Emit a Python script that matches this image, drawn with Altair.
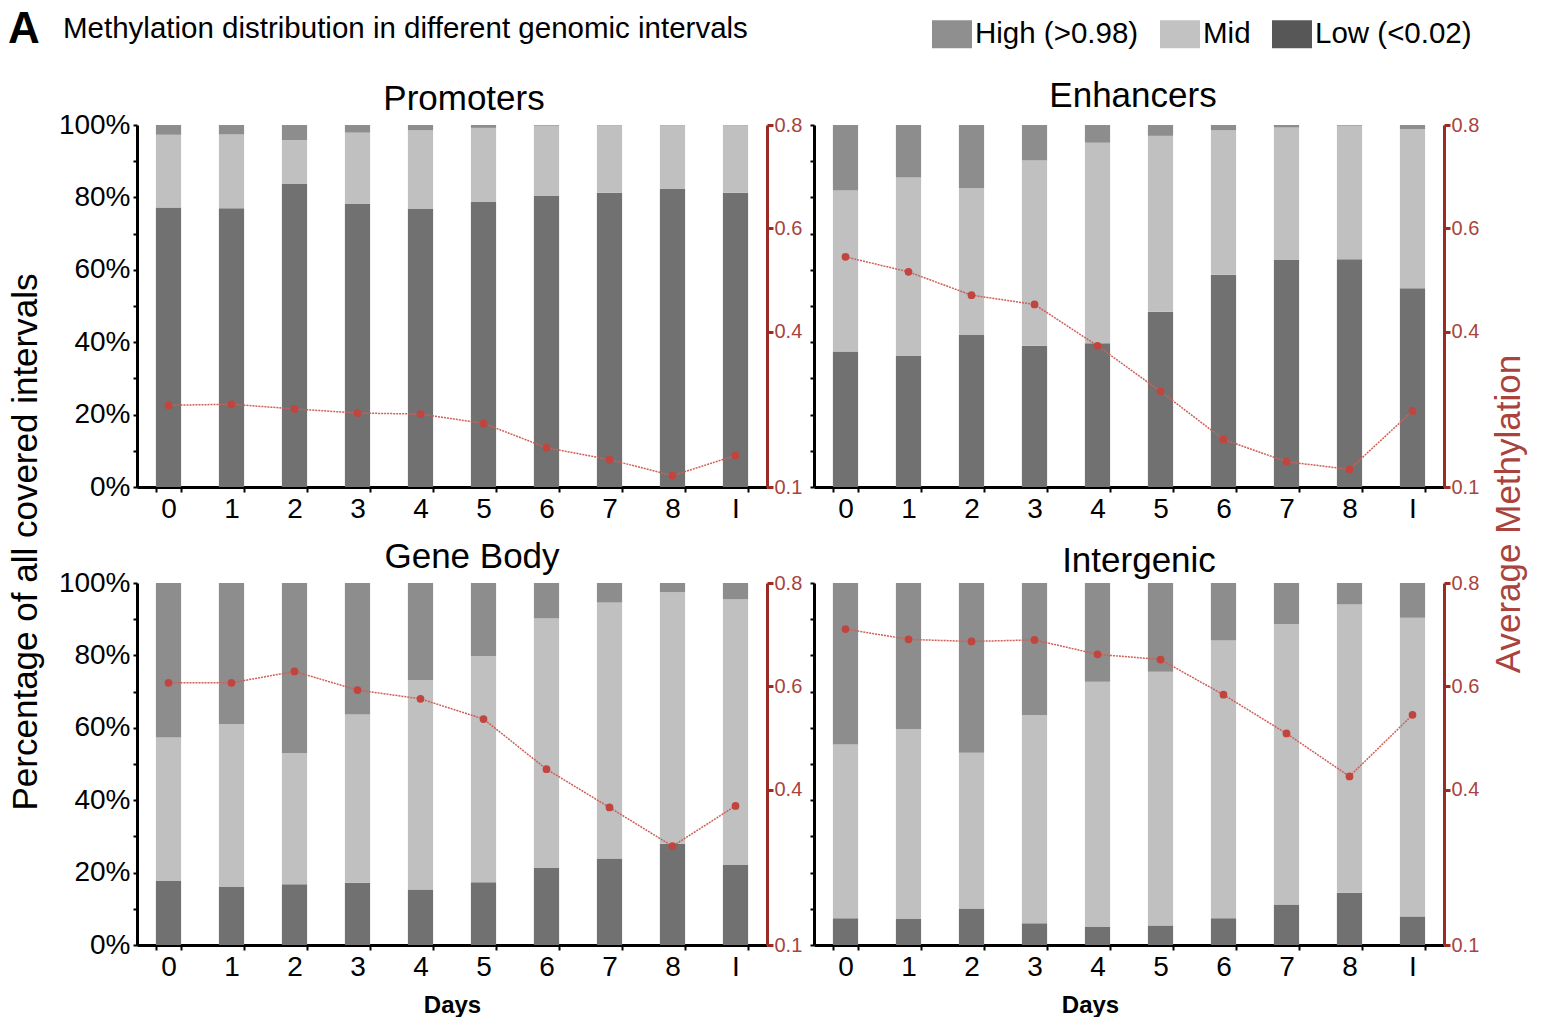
import altair as alt
import pandas as pd

FONT = "Liberation Sans"

DAYS = ["0", "1", "2", "3", "4", "5", "6", "7", "8", "I"]
LEVELS = ["High (>0.98)", "Mid", "Low (<0.02)"]
LEVEL_COLORS = ["#8d8d8d", "#c0c0c0", "#717171"]
LEGEND_COLORS = ["#8f8f8f", "#c2c2c2", "#575757"]

PANEL_NAMES = ["Promoters", "Enhancers", "Gene Body", "Intergenic"]

# percentages of intervals (Low / Mid / High) per day
PROM_LOW = [77.2, 77.0, 83.7, 78.2, 76.8, 78.7, 80.4, 81.3, 82.3, 81.3]
PROM_MID = [20.1, 20.4, 12.1, 19.7, 21.8, 20.5, 19.4, 18.6, 17.6, 18.6]
PROM_HIGH = [2.7, 2.6, 4.2, 2.1, 1.4, 0.8, 0.2, 0.1, 0.1, 0.1]
PROM_AVG = [0.258, 0.260, 0.251, 0.243, 0.241, 0.223, 0.176, 0.153, 0.122, 0.161]

ENH_LOW = [37.4, 36.2, 42.0, 39.0, 39.7, 48.4, 58.6, 62.7, 62.9, 54.9]
ENH_MID = [44.5, 49.3, 40.6, 51.2, 55.4, 48.6, 40.0, 36.6, 36.9, 44.0]
ENH_HIGH = [18.1, 14.5, 17.4, 9.8, 4.9, 3.0, 1.4, 0.7, 0.2, 1.1]
ENH_AVG = [0.545, 0.516, 0.471, 0.453, 0.373, 0.285, 0.192, 0.149, 0.134, 0.247]

GB_LOW = [17.7, 16.0, 16.8, 17.2, 15.3, 17.3, 21.3, 23.9, 28.0, 22.1]
GB_MID = [39.6, 45.0, 36.2, 46.5, 57.9, 62.5, 68.9, 70.7, 69.5, 73.4]
GB_HIGH = [42.7, 39.0, 47.0, 36.3, 26.8, 20.2, 9.8, 5.4, 2.5, 4.5]
GB_AVG = [0.607, 0.607, 0.629, 0.593, 0.576, 0.537, 0.440, 0.366, 0.291, 0.369]

IG_LOW = [7.4, 7.2, 10.1, 6.0, 5.0, 5.4, 7.4, 11.2, 14.4, 7.9]
IG_MID = [48.0, 52.4, 43.0, 57.5, 67.7, 70.1, 76.7, 77.5, 79.7, 82.5]
IG_HIGH = [44.6, 40.4, 46.9, 36.5, 27.3, 24.5, 15.9, 11.3, 5.9, 9.6]
IG_AVG = [0.711, 0.691, 0.687, 0.690, 0.662, 0.652, 0.584, 0.509, 0.426, 0.545]

PCT_TICKS = [0, 10, 20, 30, 40, 50, 60, 70, 80, 90, 100]
AVG_TICKS = [0.1, 0.4, 0.6, 0.8]

HEADER_LETTER = "A"
HEADER_TITLE = "Methylation distribution in different genomic intervals"
Y_LEFT_TITLE = "Percentage of all covered intervals"
Y_RIGHT_TITLE = "Average Methylation"
X_TITLE = "Days"

RED_AXIS = "#9c2b25"
RED_LABEL = "#a8433d"
RED_LINE = "#cf5f59"
RED_POINT = "#c2443e"

PW, PH = 630, 362

LEGEND = alt.Legend(
    title=None, orient="none", legendX=924, legendY=6, direction="horizontal",
    symbolType="M-1,-0.7H1V0.7H-1Z", symbolSize=1600, symbolStrokeWidth=0,
    symbolOpacity=1, labelFontSize=29.5, labelFont=FONT, labelColor="black",
    labelLimit=400, labelOffset=3, columnPadding=21, padding=0,
)


def panel(name, low, mid, high, avg, first_col, bottom_row, tdx, tdy, xtitle_x=None):
    rows = []
    for i, d in enumerate(DAYS):
        rows.append({"day": d, "level": LEVELS[2], "pct": low[i], "ord": 0})
        rows.append({"day": d, "level": LEVELS[1], "pct": mid[i], "ord": 1})
        rows.append({"day": d, "level": LEVELS[0], "pct": high[i], "ord": 2})
    bdf = pd.DataFrame(rows)
    ldf = pd.DataFrame({"day": DAYS, "avg": avg})

    axis_kw = dict(
        title=X_TITLE if bottom_row else None, labelAngle=0, tickBand="extent",
        domainColor="black", domainWidth=3, tickColor="black", tickWidth=2,
        tickSize=5, labelFontSize=28, labelColor="black", labelPadding=3,
        labelFont=FONT, titleFont=FONT, titleFontSize=24, titleFontWeight="bold",
        titleColor="black", titlePadding=12,
    )
    if xtitle_x is not None:
        axis_kw["titleX"] = xtitle_x
    xenc = alt.X("day:N", sort=DAYS,
                 scale=alt.Scale(paddingInner=0.6, paddingOuter=0.3),
                 axis=alt.Axis(**axis_kw))

    yaxis = alt.Axis(
        title=None, values=PCT_TICKS, labels=first_col,
        labelExpr="datum.value % 20 == 0 ? datum.value + '%' : ''",
        domainColor="black", domainWidth=3, tickColor="black", tickWidth=2,
        tickSize=4, labelFontSize=28, labelColor="black", labelPadding=3,
        labelFont=FONT, grid=False,
    )
    bars = alt.Chart(bdf).mark_bar().encode(
        x=xenc,
        y=alt.Y("pct:Q", stack="zero",
                scale=alt.Scale(domain=[0, 100], nice=False), axis=yaxis),
        color=alt.Color("level:N",
                        scale=alt.Scale(domain=LEVELS, range=LEVEL_COLORS),
                        legend=None),
        order=alt.Order("ord:Q"),
    )

    raxis = alt.Axis(
        orient="right", title=None, values=AVG_TICKS, format=".1f",
        domainColor=RED_AXIS, domainWidth=3, tickColor=RED_AXIS, tickWidth=3,
        tickSize=6, labelColor=RED_LABEL, labelFontSize=20, labelPadding=1,
        labelFont=FONT, grid=False,
    )
    line = alt.Chart(ldf).mark_line(
        color=RED_LINE, strokeWidth=1.5, strokeDash=[2, 1],
        point=alt.OverlayMarkDef(filled=True, color=RED_POINT, size=60, opacity=1),
    ).encode(
        x=alt.X("day:N", sort=DAYS),
        y=alt.Y("avg:Q", scale=alt.Scale(domain=[0.1, 0.8], nice=False, zero=False),
                axis=raxis),
    )

    return alt.layer(bars, line).resolve_scale(y="independent").properties(
        width=PW, height=PH,
        title=alt.TitleParams(name, fontSize=35, font=FONT, fontWeight="normal",
                              color="black", offset=-6, anchor="middle",
                              dx=tdx, dy=tdy),
    )


p1 = panel(PANEL_NAMES[0], PROM_LOW, PROM_MID, PROM_HIGH, PROM_AVG, True, False, 12, 0)
p2 = panel(PANEL_NAMES[1], ENH_LOW, ENH_MID, ENH_HIGH, ENH_AVG, False, False, 4, -7)
p3 = panel(PANEL_NAMES[2], GB_LOW, GB_MID, GB_HIGH, GB_AVG, True, True, 20, 0)
p4 = panel(PANEL_NAMES[3], IG_LOW, IG_MID, IG_HIGH, IG_AVG, False, True, 10, 0, 276)

row1 = alt.hconcat(p1, p2, spacing=7)
row2 = alt.hconcat(p3, p4, spacing=7)
grid = alt.vconcat(row1, row2, spacing=17)

ltitle = alt.Chart(pd.DataFrame({"t": [Y_LEFT_TITLE]})).mark_text(
    font=FONT, fontSize=35, angle=270, align="center", baseline="middle",
    color="black",
).encode(text="t:N", x=alt.value(18), y=alt.value(417)).properties(width=38, height=800)

rtitle = alt.Chart(pd.DataFrame({"t": [Y_RIGHT_TITLE]})).mark_text(
    font=FONT, fontSize=35, angle=270, align="center", baseline="middle",
    color=RED_LABEL,
).encode(text="t:N", x=alt.value(14), y=alt.value(389)).properties(width=34, height=800)

body = alt.hconcat(ltitle, grid, rtitle, spacing=12)

letter = alt.Chart(pd.DataFrame({"t": [HEADER_LETTER]})).mark_text(
    font=FONT, fontSize=44, fontWeight="bold", align="left", baseline="top",
    color="black",
).encode(text="t:N", x=alt.value(0), y=alt.value(0))
htitle = alt.Chart(pd.DataFrame({"t": [HEADER_TITLE]})).mark_text(
    font=FONT, fontSize=29.5, align="left", baseline="alphabetic", color="black",
).encode(text="t:N", x=alt.value(55), y=alt.value(30))
legend_src = alt.Chart(pd.DataFrame({"level": LEVELS})).mark_square(opacity=0).encode(
    fill=alt.Fill("level:N", scale=alt.Scale(domain=LEVELS, range=LEGEND_COLORS),
                  legend=LEGEND),
)
header = alt.layer(letter, htitle, legend_src).properties(width=900, height=40)

chart = alt.vconcat(header, body, spacing=27).properties(
    padding=0
).configure_view(stroke=None)

chart.save("out.html", embed_options={"renderer": "svg", "actions": False})
